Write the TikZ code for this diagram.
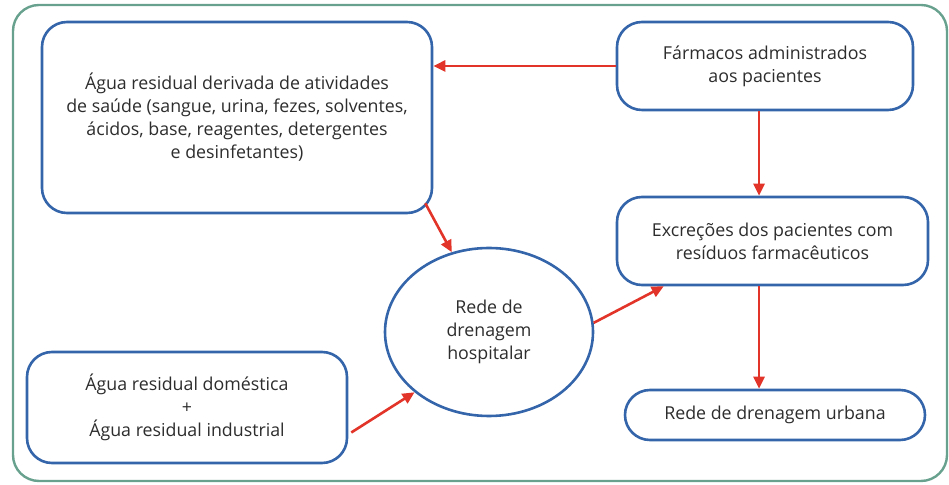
\documentclass[tikz,border=0pt]{standalone}
\usepackage{fontspec}
\setmainfont{Open Sans}
\usetikzlibrary{shapes.geometric,arrows.meta,calc}
\definecolor{frame}{RGB}{104,162,142}
\definecolor{boxblue}{RGB}{52,100,170}
\definecolor{arrred}{RGB}{226,52,40}
\definecolor{txt}{RGB}{45,45,45}
\begin{document}
\begin{tikzpicture}[x=1pt,y=1pt,
  every node/.style={text=txt,font=\fontsize{17.8}{23}\selectfont,align=center},
  rbox/.style={draw=boxblue,line width=2.6pt,rounded corners=25pt,fill=white,inner sep=0pt},
  arr/.style={draw=arrred,line width=2.6pt,-{Triangle[length=12pt,width=11pt]}}]
\useasboundingbox (0,0) rectangle (949,484);
\draw[frame,line width=2.4pt,rounded corners=26pt] (13,3) rectangle (947,479);
\node[rbox,minimum width=390pt,minimum height=191pt] (b1) at (237,366.5)
  {Água residual derivada de atividades\\de saúde (sangue, urina, fezes, solventes,\\ácidos, base, reagentes, detergentes\\e desinfetantes)};
\node[rbox,minimum width=296pt,minimum height=88pt] (b2) at (765,418)
  {Fármacos administrados\\aos pacientes};
\node[rbox,minimum width=311pt,minimum height=88pt] (b3) at (772.5,243)
  {Excreções dos pacientes com\\resíduos farmacêuticos};
\node[draw=boxblue,line width=2.6pt,ellipse,fill=white,minimum width=208pt,minimum height=168pt,inner sep=0pt] (el) at (489,152)
  {Rede de\\drenagem\\hospitalar};
\node[rbox,minimum width=320pt,minimum height=111pt] (b4) at (187,76.5)
  {Água residual doméstica\\+\\Água residual industrial};
\node[rbox,minimum width=300pt,minimum height=50pt] (b5) at (775,69)
  {Rede de drenagem urbana};
\draw[arr] (b2.west) -- (b1.east |- b2.west);
\draw[arr] ([xshift=-6pt]b2.south) -- ([xshift=-6pt]b2.south |- b3.north);
\draw[arr] ([xshift=-13.5pt]b3.south) -- ([xshift=-13.5pt]b3.south |- b5.north);
\draw[arr] ([shift={(-8pt,11pt)}]b1.south east) -- (el.115);
\draw[arr] ([shift={(3pt,-25pt)}]b4.east) -- (el.219);
\draw[arr] (el.5) -- ([xshift=48pt]b3.south west);
\end{tikzpicture}
\end{document}
